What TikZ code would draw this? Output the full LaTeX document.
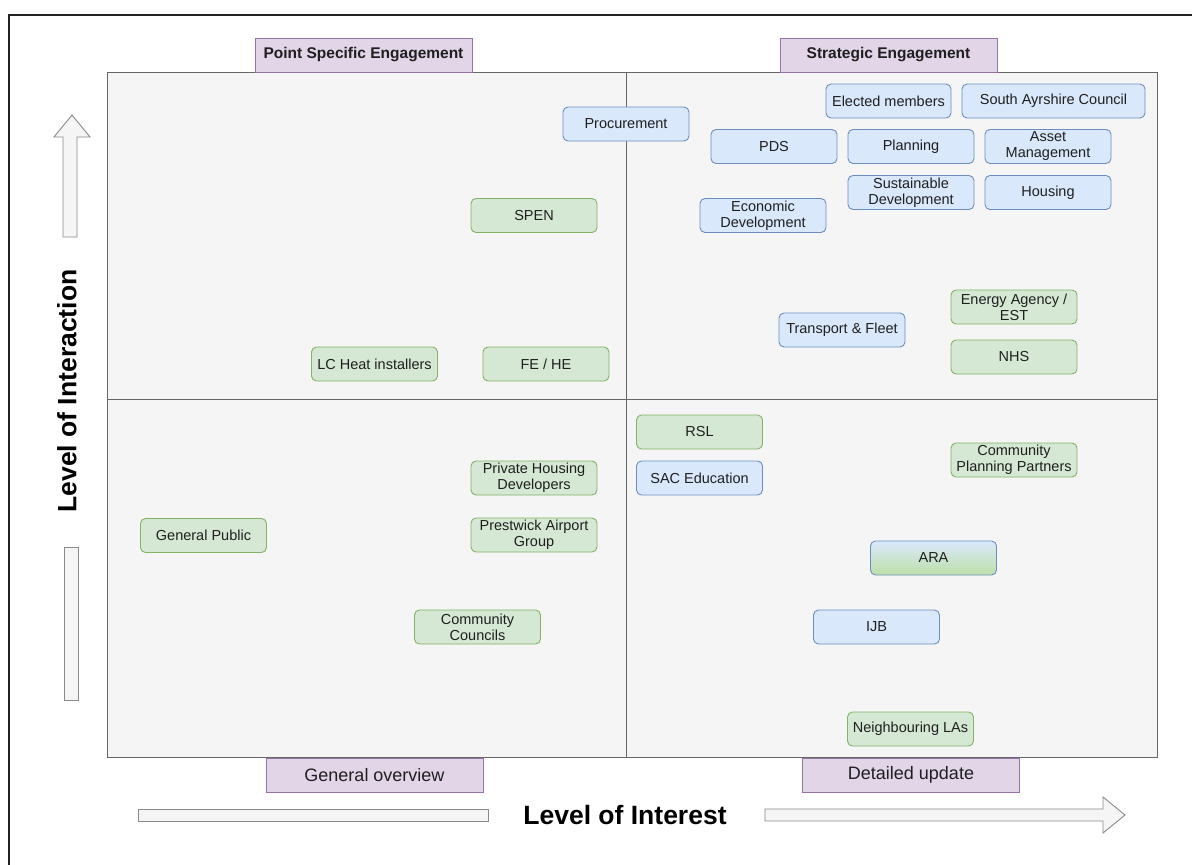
\documentclass[tikz,border=0pt]{standalone}
\usepackage{fontspec}
\setmainfont{Liberation Sans}
\definecolor{bluefill}{HTML}{DAE8FC}
\definecolor{bluedraw}{HTML}{6C8EBF}
\definecolor{greenfill}{HTML}{D5E8D4}
\definecolor{greendraw}{HTML}{82B366}
\definecolor{purpfill}{HTML}{E1D5E7}
\definecolor{purpdraw}{HTML}{9673A6}
\definecolor{panelfill}{HTML}{F5F5F5}
\definecolor{paneldraw}{HTML}{666666}
\definecolor{arrfill}{HTML}{F5F5F5}
\definecolor{arrdraw}{HTML}{8A8A8A}
\definecolor{txt}{HTML}{1F1F1F}
\definecolor{framec}{HTML}{222222}
\definecolor{aragreen}{HTML}{BDE0A8}
\begin{document}
\begin{tikzpicture}[x=1pt,y=-1pt,
  box/.style={rounded corners=5pt, draw, line width=0.9pt, minimum width=126pt, minimum height=34pt,
    inner sep=1pt, align=center, text=txt, font=\fontsize{14.5}{16}\selectfont},
  bluebox/.style={box, fill=bluefill, draw=bluedraw},
  greenbox/.style={box, fill=greenfill, draw=greendraw},
  tag/.style={draw=purpdraw, fill=purpfill, line width=0.9pt, minimum width=217pt, minimum height=34pt,
    inner sep=0pt, text=txt},
  toptag/.style={tag, font=\fontsize{15.5}{18}\selectfont\bfseries},
  bottag/.style={tag, font=\fontsize{18}{20}\selectfont},
  axislabel/.style={text=black, font=\fontsize{26.5}{30}\selectfont\bfseries, inner sep=0pt},
  arrowshape/.style={draw=arrdraw, fill=arrfill, line width=0.9pt, line join=miter}]
\useasboundingbox (0,0) rectangle (1192,865);
\fill[white] (0,0) rectangle (1192,865);
% outer frame
\draw[framec, line width=2pt] (9,880) -- (9,15) -- (1210,15);
% panel and quadrant dividers
\draw[fill=panelfill, draw=paneldraw, line width=0.9pt] (107,72) rectangle (1157,757);
\draw[paneldraw, line width=0.9pt] (626,72) -- (626,757);
\draw[paneldraw, line width=0.9pt] (107,399) -- (1157,399);
% quadrant tags
\node[toptag] (pse) at (363.5,55) {Point Specific Engagement};
\node[toptag] (se) at (888.5,55) {Strategic Engagement};
\node[bottag] (go) at (374.5,775) {General overview};
\node[bottag] (du) at (911,775) {Detailed update};
% axis arrows
\draw[arrowshape] (63,237) -- (63,137) -- (54,137) -- (72,115) -- (90,137) -- (77,137) -- (77,237) -- cycle;
\draw[arrowshape] (64,547) rectangle (78,700);
\draw[arrowshape] (138,809) rectangle (488,821);
\draw[arrowshape] (765,809) -- (1103,809) -- (1103,797) -- (1125,815) -- (1103,833) -- (1103,821) -- (765,821) -- cycle;
\node[axislabel, rotate=90] (yl) at (67,391) {Level of Interaction};
\node[axislabel] (xl) at (625,815) {Level of Interest};
% strategic quadrant
\node[bluebox] (proc) at (626,124) {Procurement};
\node[bluebox, minimum width=125pt] (elected) at (888.5,101) {Elected members};
\node[bluebox, minimum width=183pt] (sac) at (1053.5,101) {South Ayrshire Council};
\node[bluebox] (pds) at (774,146.5) {PDS};
\node[bluebox] (planning) at (911,146.5) {Planning};
\node[bluebox] (asset) at (1048,146.5) {Asset\\Management};
\node[bluebox] (sustain) at (911,192.5) {Sustainable\\Development};
\node[bluebox] (housing) at (1048,192.5) {Housing};
\node[bluebox] (econ) at (763,215.5) {Economic\\Development};
\node[bluebox] (transport) at (842,330) {Transport \& Fleet};
\node[greenbox] (energy) at (1014,307) {Energy Agency /\\EST};
\node[greenbox] (nhs) at (1014,357) {NHS};
% point specific quadrant
\node[greenbox] (spen) at (534,215.5) {SPEN};
\node[greenbox] (lcheat) at (374.5,364) {LC Heat installers};
\node[greenbox] (fehe) at (546,364) {FE / HE};
% detailed update quadrant
\node[greenbox] (rsl) at (699.5,432) {RSL};
\node[bluebox] (saced) at (699.5,478) {SAC Education};
\node[greenbox] (cpp) at (1014,460) {Community\\Planning Partners};
\node[box, draw=bluedraw, top color=bluefill, bottom color=aragreen] (ara) at (933.5,558) {ARA};
\node[bluebox] (ijb) at (876.5,627) {IJB};
\node[greenbox] (nla) at (910.5,729) {Neighbouring LAs};
% general overview quadrant
\node[greenbox] (phd) at (534,478) {Private Housing\\Developers};
\node[greenbox] (genpub) at (203.5,535.5) {General Public};
\node[greenbox] (prest) at (534,535) {Prestwick Airport\\Group};
\node[greenbox] (cc) at (477.5,627) {Community\\Councils};
\end{tikzpicture}
\end{document}
